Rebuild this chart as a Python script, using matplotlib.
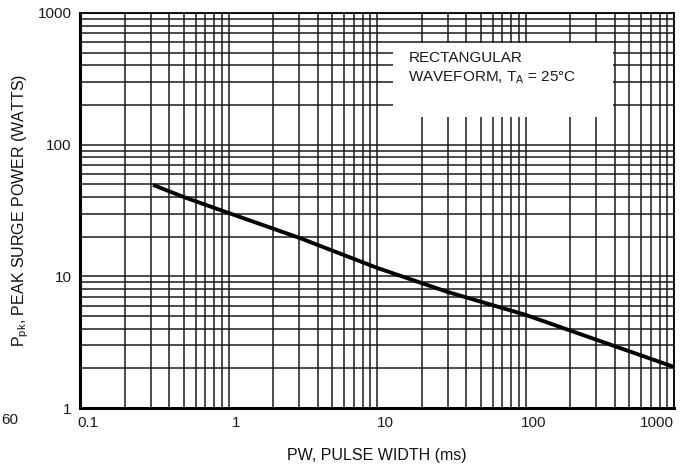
import matplotlib
matplotlib.use("Agg")
import matplotlib.pyplot as plt
import matplotlib.transforms as mtransforms
from matplotlib.patches import Rectangle

plt.rcParams['font.family'] = ['Liberation Sans', 'DejaVu Sans']
plt.rcParams['mathtext.default'] = 'regular'

# curve
pw_ms = [0.31, 0.5, 1, 3, 10, 30, 100, 300, 1000]
ppk_w = [49.5, 40.0, 30.3, 19.6, 11.6, 7.6, 5.1, 3.3, 2.05]

xticks = [0.1, 1, 10, 100, 1000]
xticklabels = ['0.1', '1', '10', '100', '1000']
yticks = [1, 10, 100, 1000]
yticklabels = ['1', '10', '100', '1000']

fig = plt.figure(figsize=(6.88, 4.70), dpi=100)
ax = fig.add_axes([80/688, 1-408/470, 594/688, 395/470])

ax.set_xscale('log')
ax.set_yscale('log')
ax.set_xlim(0.1, 1000)
ax.set_ylim(1, 1000)

ax.grid(True, which='both', color='#1a1a1a', linewidth=1.1)
ax.set_axisbelow(True)

ax.plot(pw_ms, ppk_w, color='black', linewidth=2.8, solid_capstyle='butt', zorder=5)

ax.set_xticks(xticks)
ax.set_xticklabels(xticklabels)
ax.set_yticks(yticks)
ax.set_yticklabels(yticklabels)
ax.tick_params(which='both', length=0, labelsize=11, colors='#1a1a1a')
ax.tick_params(axis='x', pad=6)
ax.tick_params(axis='y', pad=6)

# label placement like the original sheet
labels = ax.get_xticklabels()
labels[0].set_ha('left')
labels[0].set_transform(labels[0].get_transform() +
                        mtransforms.ScaledTranslation(-3/100, 0, fig.dpi_scale_trans))
for lab in labels[1:4]:
    lab.set_transform(lab.get_transform() +
                      mtransforms.ScaledTranslation(8/100, 0, fig.dpi_scale_trans))
labels[4].set_ha('right')

for side in ['left', 'bottom']:
    ax.spines[side].set_linewidth(2.2)
for side in ['top', 'right']:
    ax.spines[side].set_linewidth(1.3)

ax.set_xlabel('PW, PULSE WIDTH (ms)', fontsize=11.5, labelpad=13, color='#111111')
ax.set_ylabel('P$_{pk}$, PEAK SURGE POWER (WATTS)', fontsize=11.5, labelpad=5, color='#111111')

# annotation box
ax.add_patch(Rectangle((0.527, 0.737), 0.37, 0.187, transform=ax.transAxes,
                       facecolor='white', edgecolor='none', zorder=3))
ax.text(0.553, 0.86, 'RECTANGULAR\nWAVEFORM, T$_{A}$ = 25°C', transform=ax.transAxes,
        fontsize=11, va='center', ha='left', color='#1a1a1a', linespacing=1.35, zorder=4)

# label from the neighbouring graph, clipped in the original
fig.text(0.002, 1-420/470, '60', fontsize=11, va='center', ha='left', color='#1a1a1a')

fig.savefig('out.png', dpi=100)
